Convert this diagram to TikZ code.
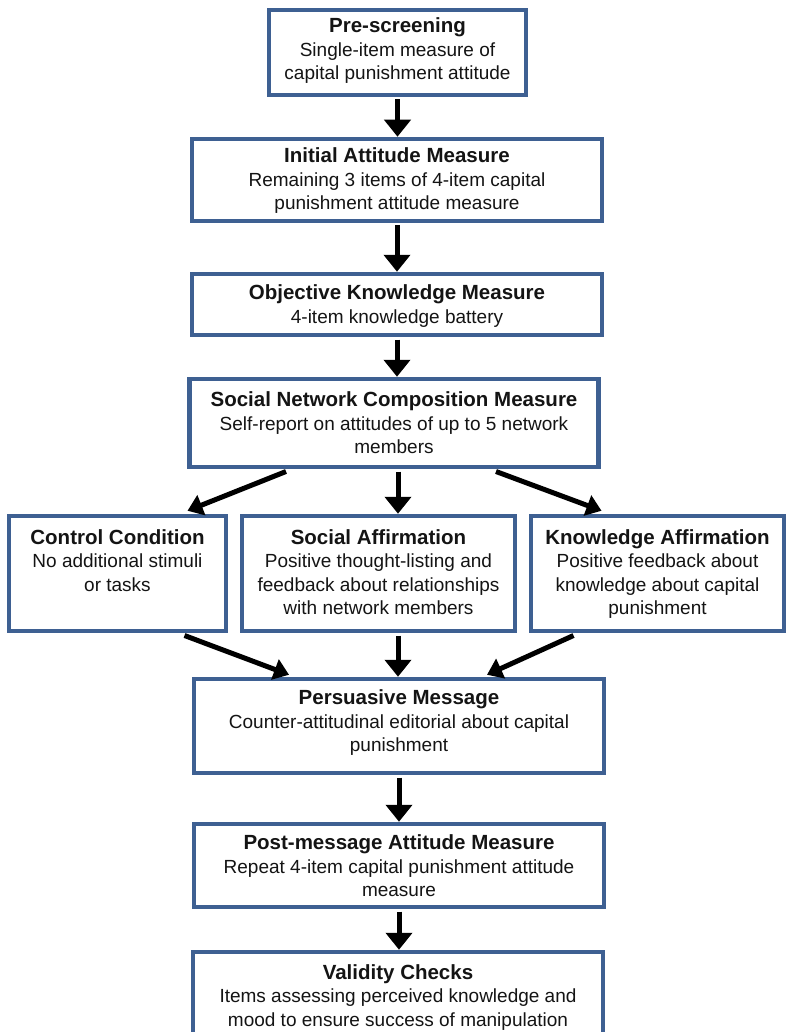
\documentclass[tikz,border=0pt]{standalone}
\usepackage{fontspec}
\setmainfont{Liberation Sans}
\usetikzlibrary{arrows.meta}
\definecolor{boxblue}{RGB}{62,96,146}
\definecolor{txtc}{RGB}{20,20,20}
\tikzset{
  box/.style={draw=boxblue, line width=4.5pt, fill=white, rectangle, inner sep=0pt},
  txt/.style={align=center, inner sep=0pt, text=txtc, font=\fontsize{19}{23.5}\selectfont},
  arr/.style={line width=5pt, -{Triangle[width=26pt,length=17pt]}},
  darr/.style={line width=5pt, -{Triangle[width=21pt,length=15pt]}}
}
\newcommand{\ttl}[1]{{\fontsize{20.5}{23.5}\selectfont\bfseries #1}}
\begin{document}
\begin{tikzpicture}[x=1pt,y=-1pt]
\useasboundingbox (0,0) rectangle (789,1032);
\fill[white] (0,0) rectangle (789,1032);

% boxes
\node[box, minimum width=257pt, minimum height=85pt] (b1) at (397.5,52.5) {};
\node[box, minimum width=410pt, minimum height=82pt] (b2) at (397,180) {};
\node[box, minimum width=410pt, minimum height=61pt] (b3) at (397,304.5) {};
\node[box, minimum width=409pt, minimum height=88pt] (b4) at (394,423) {};
\node[box, minimum width=217pt, minimum height=115pt] (b5) at (117.5,573.5) {};
\node[box, minimum width=273pt, minimum height=115pt] (b6) at (378.5,573.5) {};
\node[box, minimum width=253pt, minimum height=115pt] (b7) at (657.5,573.5) {};
\node[box, minimum width=410pt, minimum height=94pt] (b8) at (399,726) {};
\node[box, minimum width=410pt, minimum height=83pt] (b9) at (399,865.5) {};
\node[box, minimum width=410pt, minimum height=96pt] (b10) at (398,1000) {};

% texts
\node[txt] (t1) at (397.5,51) {\ttl{Pre-screening}\\Single-item measure of\\capital punishment attitude};
\node[txt] (t2) at (397,181) {\ttl{Initial Attitude Measure}\\Remaining 3 items of 4-item capital\\punishment attitude measure};
\node[txt] (t3) at (397,306) {\ttl{Objective Knowledge Measure}\\4-item knowledge battery};
\node[txt] (t4) at (394,423) {\ttl{Social Network Composition Measure}\\Self-report on attitudes of up to 5 network\\members};
\node[txt, anchor=north] (t5) at (117.5,529) {\ttl{Control Condition}\\No additional stimuli\\or tasks};
\node[txt, anchor=north] (t6) at (378.5,529) {\ttl{Social Affirmation}\\Positive thought-listing and\\feedback about relationships\\with network members};
\node[txt, anchor=north] (t7) at (657.5,529) {\ttl{Knowledge Affirmation}\\Positive feedback about\\knowledge about capital\\punishment};
\node[txt] (t8) at (399,723) {\ttl{Persuasive Message}\\Counter-attitudinal editorial about capital\\punishment};
\node[txt] (t9) at (399,866) {\ttl{Post-message Attitude Measure}\\Repeat 4-item capital punishment attitude\\measure};
\node[txt, anchor=north] (t10) at (398,964) {\ttl{Validity Checks}\\Items assessing perceived knowledge and\\mood to ensure success of manipulation};

% arrows
\draw[arr] ([yshift=-2.25pt]b1.south) -- (b1.south |- b2.north);
\draw[arr] ([yshift=-2.25pt]b2.south) -- (b2.south |- b3.north);
\draw[arr] ([yshift=-2.25pt]b3.south) -- (b3.south |- b4.north);
\draw[arr] ([xshift=4pt,yshift=-2.25pt]b4.south) -- ([xshift=4pt]b4.south |- b6.north);
\draw[darr] ([xshift=-108pt,yshift=-2.25pt]b4.south) -- ([xshift=70pt,yshift=3pt]b5.north);
\draw[darr] ([xshift=102pt,yshift=-2.25pt]b4.south) -- ([xshift=-56pt,yshift=3pt]b7.north);
\draw[arr] ([xshift=19.5pt,yshift=-2.25pt]b6.south) -- ([xshift=19.5pt]b6.south |- b8.north);
\draw[darr] ([xshift=67pt,yshift=-2.25pt]b5.south) -- ([xshift=-110pt,yshift=2pt]b8.north);
\draw[darr] ([xshift=-84pt,yshift=-2.25pt]b7.south) -- ([xshift=88pt,yshift=2pt]b8.north);
\draw[arr] ([yshift=-2.25pt]b8.south) -- (b8.south |- b9.north);
\draw[arr] ([yshift=-2.25pt]b9.south) -- (b9.south |- b10.north);
\end{tikzpicture}
\end{document}
